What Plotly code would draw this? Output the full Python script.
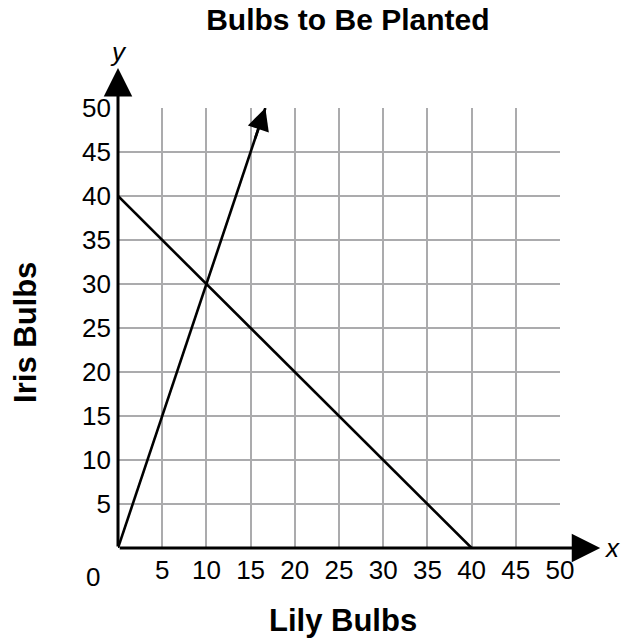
import plotly.graph_objects as go

title = "Bulbs to Be Planted"
x_title = "Lily Bulbs"
y_title = "Iris Bulbs"
tick_vals = [5, 10, 15, 20, 25, 30, 35, 40, 45, 50]
tick_text = [str(v) for v in tick_vals]

# Line 1: y = 3x (arrow end)
line1_x = [0, 16.67]
line1_y = [0, 50]
# Line 2: x + y = 40
line2_x = [0, 40]
line2_y = [40, 0]

FONT = "Liberation Sans, Arial, sans-serif"

fig = go.Figure()
fig.add_trace(go.Scatter(x=line1_x, y=line1_y, mode="lines",
                         line=dict(color="black", width=2.6), hoverinfo="skip"))
fig.add_trace(go.Scatter(x=line2_x, y=line2_y, mode="lines",
                         line=dict(color="black", width=2.6), hoverinfo="skip"))

anns = []
# arrowhead on line 1
anns.append(dict(x=line1_x[1], y=line1_y[1], ax=line1_x[1] - 1.2, ay=line1_y[1] - 3.6,
                 xref="x", yref="y", axref="x", ayref="y", text="", showarrow=True,
                 arrowhead=2, arrowsize=1.7, arrowwidth=2.6, arrowcolor="black"))
# axis arrows (drawn from the origin)
anns.append(dict(x=1.091, y=0, ax=-482, ay=0, xref="paper", yref="paper",
                 text="", showarrow=True,
                 arrowhead=2, arrowsize=1.9, arrowwidth=3, arrowcolor="black"))
anns.append(dict(x=0, y=1.091, ax=0, ay=480, xref="paper", yref="paper",
                 text="", showarrow=True,
                 arrowhead=2, arrowsize=1.9, arrowwidth=3, arrowcolor="black"))
# axis variable letters
anns.append(dict(x=1.096, y=0, xref="paper", yref="paper", text="<i>x</i>",
                 showarrow=False, xanchor="left", yanchor="middle",
                 font=dict(family=FONT, size=26, color="black")))
anns.append(dict(x=0, y=1.127, xref="paper", yref="paper", text="<i>y</i>",
                 showarrow=False, xanchor="center", yanchor="middle",
                 font=dict(family=FONT, size=26, color="black")))
# corner zero
anns.append(dict(x=-0.056, y=-0.066, xref="paper", yref="paper", text="0",
                 showarrow=False, xanchor="center", yanchor="middle",
                 font=dict(family=FONT, size=26, color="black")))
# axis titles
anns.append(dict(x=0.509, y=-0.164, xref="paper", yref="paper", text="<b>" + x_title + "</b>",
                 showarrow=False, xanchor="center", yanchor="middle",
                 font=dict(family=FONT, size=31, color="black")))
anns.append(dict(x=-0.208, y=0.489, xref="paper", yref="paper", text="<b>" + y_title + "</b>",
                 showarrow=False, xanchor="center", yanchor="middle", textangle=-90,
                 font=dict(family=FONT, size=31, color="black")))

fig.update_layout(
    width=621, height=641,
    margin=dict(l=118, r=61, t=108, b=93),
    paper_bgcolor="white", plot_bgcolor="white",
    showlegend=False,
    title=dict(text="<b>" + title + "</b>", xref="paper", yref="container",
               x=0.52, xanchor="center", y=0.969, yanchor="middle",
               font=dict(family=FONT, size=30, color="black")),
    annotations=anns,
)
fig.update_xaxes(range=[0, 50], tickvals=tick_vals, ticktext=tick_text,
                 showgrid=True, gridcolor="#ababad", gridwidth=2,
                 showline=False, zeroline=False, ticks="", ticklabelstandoff=4,
                 tickfont=dict(family=FONT, size=26, color="black"))
fig.update_yaxes(range=[0, 50], tickvals=tick_vals, ticktext=tick_text,
                 showgrid=True, gridcolor="#ababad", gridwidth=2,
                 showline=False, zeroline=False, ticks="", ticklabelstandoff=6,
                 tickfont=dict(family=FONT, size=26, color="black"))

fig.write_html("out.html", config={"displayModeBar": False},
               post_script="document.body.style.margin='0';document.body.style.overflow='hidden';")
